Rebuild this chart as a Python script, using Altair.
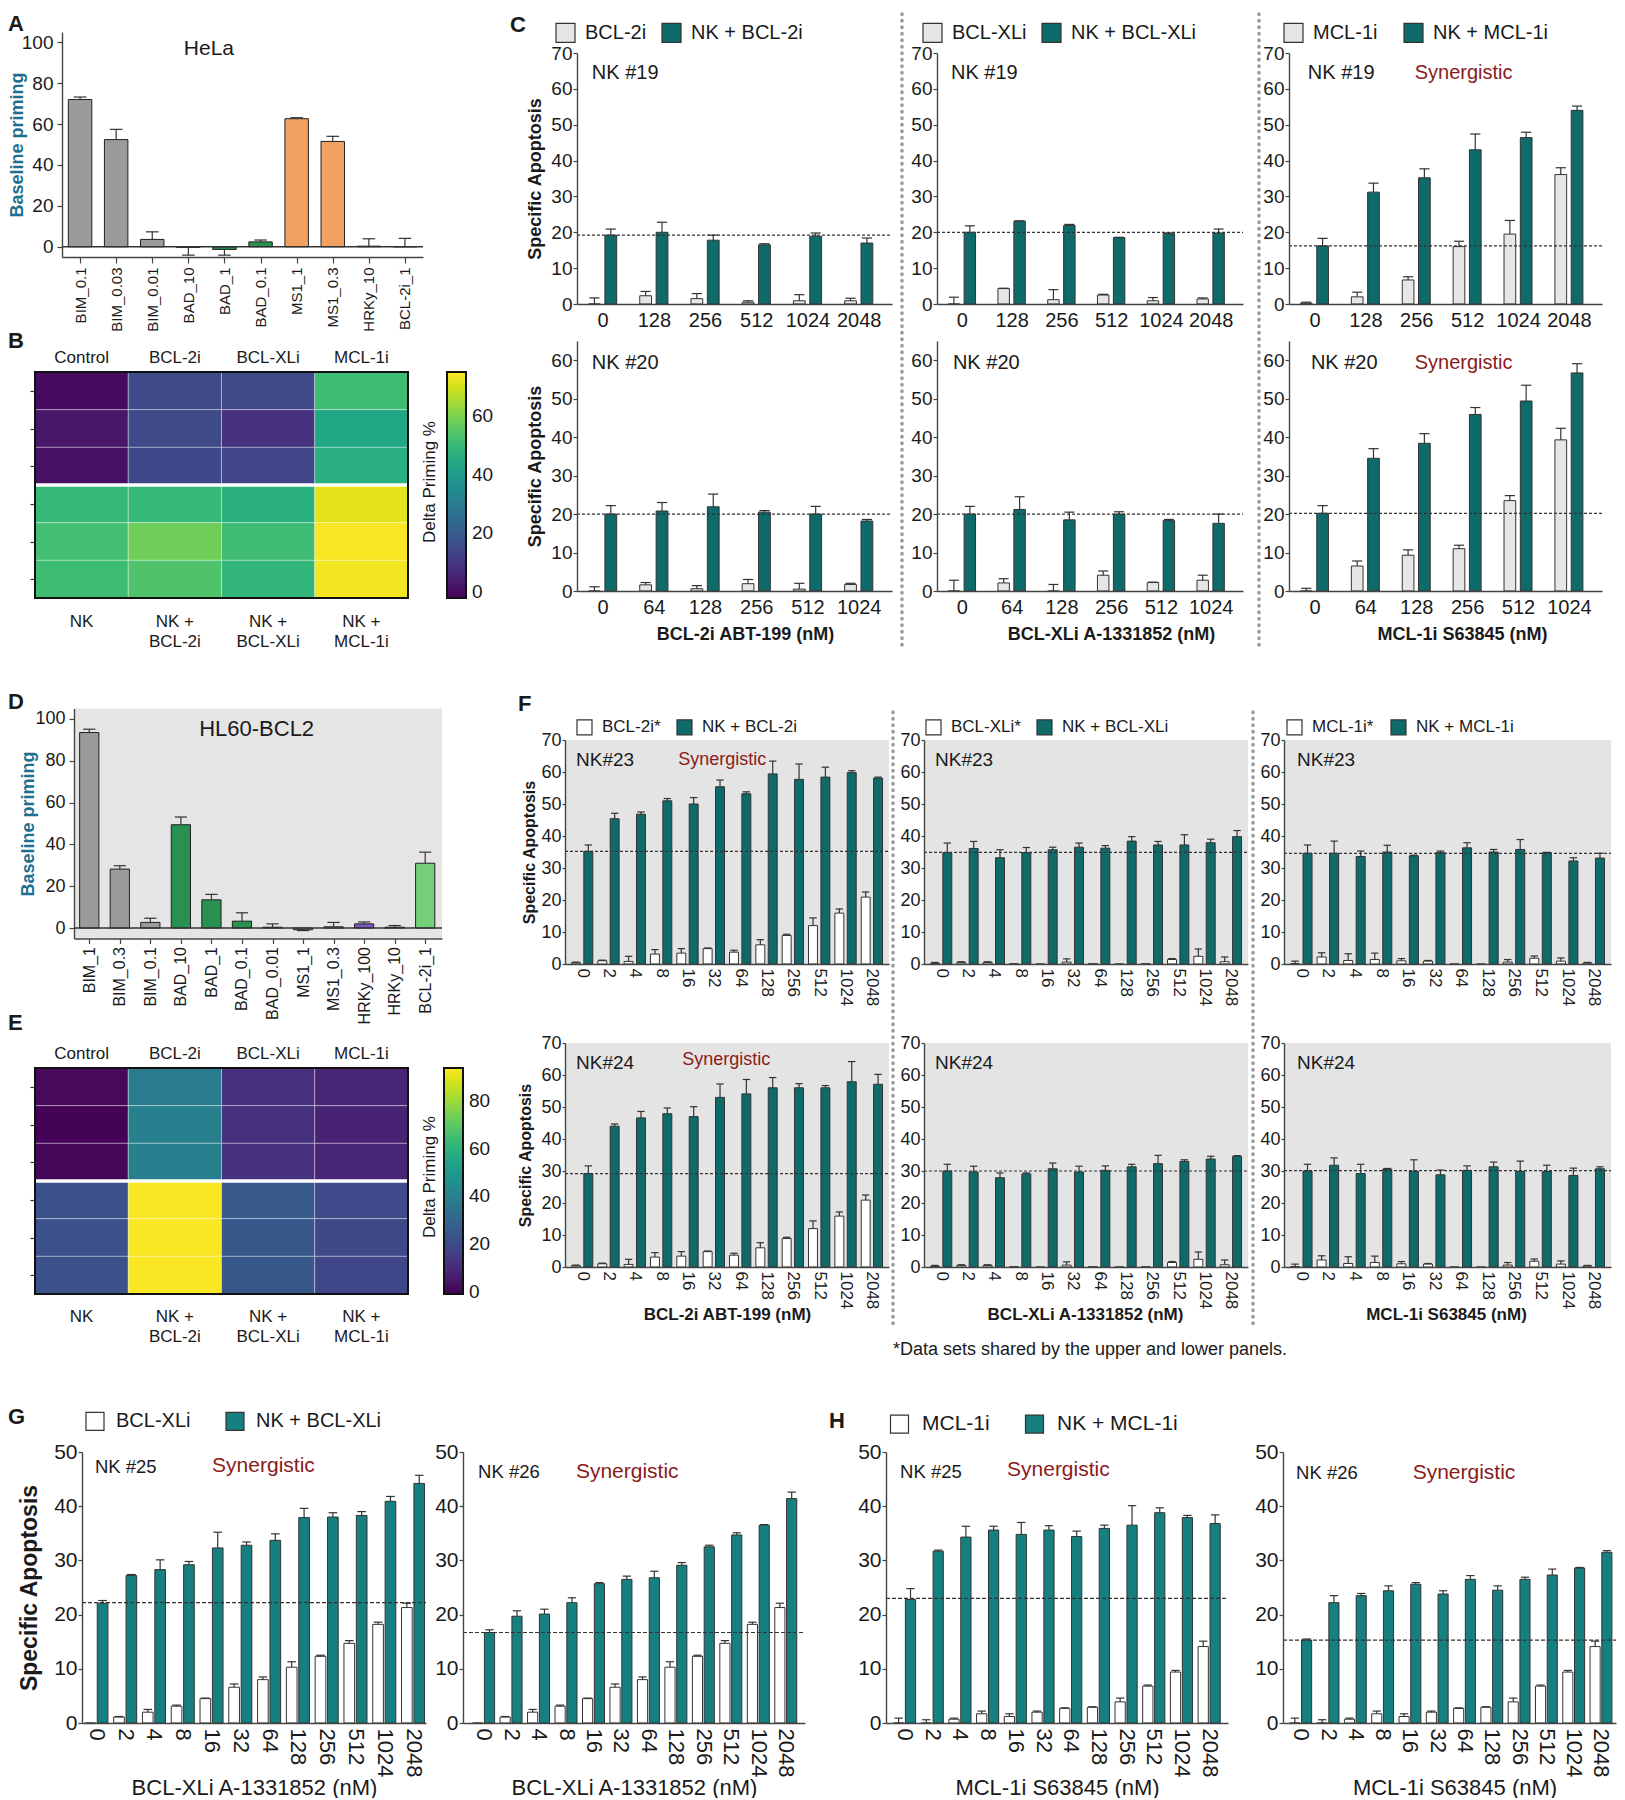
import json
import altair as alt
import pandas as pd

FONT = "Arial, Liberation Sans, Helvetica, sans-serif"
M = 8                      # page margin (reference px -> chart px)
W, H = 1609, 1784          # whole canvas used as one plot area
INK = "#1a1a1a"
TEAL = "#0f6a6a"
TEAL_G = "#15807f"
LIGHT = "#e6e6e6"
WHITE = "#ffffff"
RED = "#8b1a1a"
PRIME = "#1e6f8f"

# ------------------------------------------------------------------ data
A_cats = ["BIM_0.1", "BIM_0.03", "BIM_0.01", "BAD_10", "BAD_1", "BAD_0.1",
          "MS1_1", "MS1_0.3", "HRKy_10", "BCL-2i_1"]
A_vals = [72.0, 52.4, 3.6, -0.3, -1.3, 2.4, 62.6, 51.5, 0.3, 0.0]
A_errs = [1.2, 5.0, 3.7, 3.8, 2.8, 0.9, 0.5, 2.5, 3.6, 4.1]

D_cats = ["BIM_1", "BIM_0.3", "BIM_0.1", "BAD_10", "BAD_1", "BAD_0.1", "BAD_0.01",
          "MS1_1", "MS1_0.3", "HRKy_100", "HRKy_10", "BCL-2i_1"]
D_vals = [93.5, 28.2, 2.7, 49.4, 13.5, 3.3, 0.4, -0.8, 0.6, 2.0, 0.4, 31.0]
D_errs = [1.6, 1.6, 2.0, 3.7, 2.6, 4.0, 1.6, 0.4, 2.1, 0.9, 0.8, 5.3]

FAMILIES = ["BIM", "BAD", "MS1", "HRKy", "BCL-2i"]
FAMILY_COLORS = ["#9b9b9b", "#289152", "#f1a262", "#7b55c3", "#74cf79"]

HEAT_COLS = ["Control", "BCL-2i", "BCL-XLi", "MCL-1i"]
HEAT_NK = ["NK", "NK +\nBCL-2i", "NK +\nBCL-XLi", "NK +\nMCL-1i"]
B_vals = [[0.0, 15.0, 15.0, 51.0],
          [2.5, 15.0, 9.0, 44.0],
          [1.0, 14.5, 14.0, 46.5],
          [49.5, 49.5, 47.0, 72.0],
          [52.0, 58.0, 51.0, 74.6],
          [51.0, 53.5, 48.8, 73.5]]
E_vals = [[1.0, 38.0, 12.0, 8.5],
          [-0.5, 39.5, 12.0, 8.0],
          [0.5, 39.5, 12.0, 8.5],
          [22.0, 93.5, 25.5, 20.0],
          [22.0, 93.5, 25.0, 19.5],
          [22.0, 93.5, 25.0, 19.0]]

C_top_cats = ["0", "128", "256", "512", "1024", "2048"]
C_bot_cats = ["0", "64", "128", "256", "512", "1024"]
C1_light = [0.0, 2.3, 1.5, 0.5, 0.9, 0.9]
C1_light_err = [1.7, 1.2, 1.4, 0.4, 1.7, 0.7]
C1_teal = [19.2, 20.0, 17.8, 16.5, 18.9, 17.0]
C1_teal_err = [1.7, 2.8, 1.4, 0.3, 0.9, 1.4]
C2_light = [0.0, 4.3, 1.2, 2.5, 0.9, 1.4]
C2_light_err = [1.9, 0.1, 2.8, 0.2, 0.9, 0.3]
C2_teal = [20.0, 23.1, 21.9, 18.5, 19.6, 19.8]
C2_teal_err = [1.8, 0.1, 0.3, 0.1, 0.2, 1.1]
C3_light = [0.2, 2.0, 6.7, 16.0, 19.5, 36.1]
C3_light_err = [0.3, 1.3, 0.9, 1.5, 3.8, 1.9]
C3_teal = [16.2, 31.2, 35.2, 43.0, 46.4, 54.0]
C3_teal_err = [2.1, 2.5, 2.5, 4.4, 1.5, 1.2]
C4_light = [0.0, 1.6, 0.6, 1.9, 0.5, 1.7]
C4_light_err = [1.1, 0.6, 0.8, 1.1, 1.5, 0.3]
C4_teal = [20.0, 20.8, 21.9, 20.5, 20.0, 18.2]
C4_teal_err = [2.2, 2.2, 3.3, 0.4, 2.0, 0.4]
C5_light = [0.0, 2.1, 0.0, 4.1, 2.2, 2.8]
C5_light_err = [2.8, 1.1, 1.7, 1.1, 0.1, 1.3]
C5_teal = [20.0, 21.2, 18.5, 20.0, 18.3, 17.6]
C5_teal_err = [2.0, 3.3, 2.0, 0.6, 0.3, 2.4]
C6_light = [0.0, 6.5, 9.3, 11.0, 23.5, 39.3]
C6_light_err = [0.7, 1.3, 1.4, 0.9, 1.3, 3.0]
C6_teal = [20.2, 34.5, 38.4, 45.9, 49.4, 56.7]
C6_teal_err = [2.0, 2.5, 2.5, 1.8, 4.1, 2.4]
C_refs = [19.2, 20.0, 16.2, 20.0, 20.0, 20.2]

DOSE_CATS = ["0", "2", "4", "8", "16", "32", "64", "128", "256", "512", "1024", "2048"]
F_bcl2i = [0.4, 1.0, 0.8, 3.1, 3.4, 4.8, 3.7, 6.0, 8.9, 12.0, 15.9, 20.9]
F_bcl2i_err = [0.2, 0.2, 1.6, 1.4, 1.4, 0.2, 0.6, 1.6, 0.4, 2.4, 1.3, 1.6]
F_bclxli = [0.2, 0.5, 0.5, 0.1, 0.0, 0.6, 0.1, 0.0, 0.1, 1.4, 2.4, 0.7]
F_bclxli_err = [0.3, 0.2, 0.2, 0.0, 0.0, 1.0, 0.0, 0.0, 0.0, 0.3, 2.3, 1.5]
F_mcl1i = [0.1, 2.2, 1.1, 1.4, 1.0, 0.9, 0.0, 0.0, 0.6, 1.8, 0.9, 0.3]
F_mcl1i_err = [0.8, 1.3, 2.1, 2.0, 0.7, 0.2, 0.0, 0.0, 0.8, 0.7, 1.0, 0.2]
F1_teal = [35.2, 45.4, 46.8, 51.0, 50.0, 55.4, 53.2, 59.4, 57.7, 58.4, 59.8, 58.1]
F1_teal_err = [2.0, 1.7, 0.7, 0.7, 2.0, 2.1, 0.6, 4.0, 4.8, 3.1, 0.6, 0.3]
F2_teal = [34.8, 36.1, 33.2, 34.8, 35.7, 36.5, 36.2, 38.4, 37.2, 37.2, 37.9, 39.8]
F2_teal_err = [3.0, 2.2, 2.5, 1.6, 0.8, 1.3, 0.8, 1.4, 1.1, 3.2, 1.1, 1.9]
F3_teal = [34.6, 34.6, 33.6, 35.0, 33.8, 34.8, 36.3, 35.0, 35.8, 34.8, 32.2, 33.1]
F3_teal_err = [2.6, 3.8, 1.7, 2.1, 0.2, 0.5, 1.6, 0.8, 3.1, 0.1, 1.0, 1.5]
F4_teal = [29.2, 44.0, 46.6, 47.9, 47.0, 53.0, 54.1, 56.0, 56.0, 56.0, 57.9, 57.1]
F4_teal_err = [2.4, 0.7, 2.0, 1.8, 3.1, 4.2, 4.5, 3.2, 1.3, 0.7, 6.3, 3.1]
F5_teal = [30.0, 29.7, 27.9, 29.1, 30.7, 29.7, 30.2, 31.3, 32.3, 33.0, 33.75, 34.6]
F5_teal_err = [2.1, 1.8, 1.5, 0.3, 1.8, 1.8, 1.4, 0.8, 2.6, 0.5, 0.85, 0.2]
F6_teal = [30.0, 31.8, 29.2, 30.6, 29.9, 28.8, 30.2, 31.3, 29.9, 29.9, 28.6, 30.7]
F6_teal_err = [2.1, 2.3, 2.9, 0.2, 3.6, 1.5, 1.4, 1.5, 3.2, 1.9, 2.3, 0.6]
F_refs = [35.2, 34.9, 34.6, 29.2, 30.0, 30.1]

G_xli = [0.0, 1.1, 2.0, 3.1, 4.5, 6.6, 8.0, 10.3, 12.3, 14.7, 18.2, 21.3]
G_xli_err = [0.0, 0.1, 0.5, 0.2, 0.1, 0.6, 0.5, 1.0, 0.2, 0.5, 0.4, 0.8]
G1_teal = [22.1, 27.2, 28.3, 29.2, 32.3, 32.8, 33.7, 37.9, 38.0, 38.3, 40.9, 44.2]
G1_teal_err = [0.5, 0.2, 1.8, 0.6, 2.9, 0.6, 1.2, 1.7, 0.8, 0.7, 0.9, 1.5]
G2_teal = [16.7, 19.7, 20.1, 22.2, 25.7, 26.5, 26.8, 29.1, 32.5, 34.7, 36.5, 41.4]
G2_teal_err = [0.5, 1.0, 0.9, 0.9, 0.2, 0.6, 1.2, 0.5, 0.3, 0.4, 0.1, 1.2]
G_refs = [22.2, 16.7]

H_mcl = [0.0, 0.0, 0.7, 1.7, 1.2, 2.0, 2.7, 2.9, 3.9, 6.8, 9.4, 14.1]
H_mcl_err = [0.9, 0.6, 0.2, 0.5, 0.5, 0.2, 0.1, 0.1, 0.7, 0.2, 0.3, 1.0]
H1_teal = [22.8, 31.7, 34.3, 35.6, 34.8, 35.6, 34.4, 35.9, 36.5, 38.8, 37.9, 36.8]
H1_teal_err = [2.0, 0.2, 2.0, 0.7, 2.2, 0.8, 1.0, 0.6, 3.6, 0.9, 0.4, 1.6]
H2_teal = [15.3, 22.2, 23.5, 24.4, 25.6, 23.8, 26.5, 24.5, 26.5, 27.3, 28.6, 31.5]
H2_teal_err = [0.2, 1.3, 0.4, 0.9, 0.3, 0.6, 0.7, 0.8, 0.4, 1.1, 0.1, 0.3]
H_refs = [23.0, 15.3]

# ------------------------------------------------------------------ helpers
ONE = pd.DataFrame({"k": [0]})


def S(dom, a, b):
    return alt.Scale(domain=[float(d) for d in dom], range=[a - M, b - M], nice=False, zero=False)


def yaxis(box, ticks, st, title=None, tx=None, tcolor=INK):
    x0 = box[0]
    kw = dict(orient="left", offset=-(x0 - M), values=ticks, labelFontSize=st["ylab"],
              tickSize=st["ytick"], labelPadding=st["ypad"], grid=False, zindex=1,
              labelFlush=False, labelOverlap=False, labelColor=INK)
    if title:
        kw.update(title=title, titleFontSize=st["ytsize"], titleFontWeight="bold", titleColor=tcolor,
                  titleX=tx - x0, titleBaseline="middle", titleAlign="center", titleAngle=270)
    else:
        kw["title"] = None
    return alt.Axis(**kw)


def xaxis(box, cats, st, title=None, tx=None, ty=None):
    yb = box[3]
    kw = dict(orient="bottom", offset=(yb - M) - H, values=list(range(len(cats))),
              labelExpr=json.dumps(cats) + "[round(datum.value)]", labelAngle=st["angle"],
              labelFontSize=st["xlab"], tickSize=st["xtick"], ticks=st["xtick"] > 0,
              labelPadding=st["xpad"], grid=False, zindex=1, labelFlush=False,
              labelOverlap=False, labelColor=INK)
    if title:
        kw.update(title=title, titleFontSize=st["xtsize"], titleFontWeight=st["xtweight"],
                  titleColor=INK, titleX=tx - M, titleY=ty - yb, titleBaseline="middle",
                  titleAlign="center")
    else:
        kw["title"] = None
    return alt.Axis(**kw)


def bar_legend(x, yc, size, font, pad, offset=9):
    return alt.Legend(orient="none", legendX=x - M, legendY=yc - M - max(size, font) / 2 + 1,
                      direction="horizontal", title=None, symbolType="square",
                      symbolSize=size * size, symbolStrokeColor="#333333", symbolStrokeWidth=1.2,
                      labelFontSize=font, labelOffset=offset, columnPadding=pad,
                      labelColor=INK, labelFont=FONT, symbolOpacity=1)


def text_layer(xs, ys, x, y, t, size, color=INK, align="left", weight="normal"):
    return alt.Chart(ONE).mark_text(text=t, fontSize=size, color=color, align=align,
                                    baseline="middle", font=FONT, fontWeight=weight).encode(
        x=alt.XDatum(datum=x, scale=xs, axis=None), y=alt.YDatum(datum=y, scale=ys, axis=None))


def bar_panel(cats, series, fills, box, ydom, yticks, xdom, st, names=None, ref=None,
              legend=None, ytitle=None, ytx=None, ytcolor=INK, xtitle=None, xtx=None,
              xty=None, texts=(), bg=None, zero=False, family=False):
    x0, x1, yt, yb = box
    xs = S(xdom, x0, x1)
    ys = S(ydom, yb, yt)
    rows = []
    for s, (vals, errs) in enumerate(series):
        off = 0.0 if len(series) == 1 else (-st["dx"] if s == 0 else st["dx"])
        for i, (v, e) in enumerate(zip(vals, errs)):
            c = i + off
            rows.append({"name": cats[i].rsplit("_", 1)[0] if family else names[s],
                         "v": v, "e": e, "c": c,
                         "xl": c - st["bw"] / 2, "xr": c + st["bw"] / 2,
                         "cl": c - st["cap"] / 2, "cr": c + st["cap"] / 2,
                         "top": v - e if v < 0 else v + e})
    df = pd.DataFrame(rows)
    dom = FAMILIES if family else names
    layers = []
    if bg:
        layers.append(alt.Chart(ONE).mark_rect(color=bg).encode(
            x=alt.XDatum(datum=xdom[0], scale=xs, axis=None), x2=alt.X2Datum(datum=xdom[1]),
            y=alt.YDatum(datum=ydom[0], scale=ys, axis=None), y2=alt.Y2Datum(datum=ydom[1])))
    layers.append(alt.Chart(df).mark_bar(stroke=st["edge"], strokeWidth=1).encode(
        x=alt.X("xl:Q", scale=xs, axis=xaxis(box, cats, st, xtitle, xtx, xty)), x2="xr:Q",
        y=alt.Y("v:Q", scale=ys, axis=yaxis(box, yticks, st, ytitle, ytx, ytcolor)),
        y2=alt.Y2Datum(datum=0),
        color=alt.Color("name:N", scale=alt.Scale(domain=dom, range=fills), legend=legend)))
    eb = df[df["e"] > 0]
    layers.append(alt.Chart(eb).mark_rule(color="#333333", strokeWidth=1.2).encode(
        x=alt.X("c:Q", scale=xs, axis=None), y=alt.Y("v:Q", scale=ys, axis=None), y2="top:Q"))
    layers.append(alt.Chart(eb).mark_rule(color="#333333", strokeWidth=1.2).encode(
        x=alt.X("cl:Q", scale=xs, axis=None), x2="cr:Q", y=alt.Y("top:Q", scale=ys, axis=None)))
    if zero:
        layers.append(alt.Chart(ONE).mark_rule(color="#333333", strokeWidth=1.5).encode(
            x=alt.XDatum(datum=xdom[0], scale=xs, axis=None), x2=alt.X2Datum(datum=xdom[1]),
            y=alt.YDatum(datum=0, scale=ys, axis=None)))
    if ref is not None:
        layers.append(alt.Chart(ONE).mark_rule(color="#333333", strokeDash=st["dash"],
                                               strokeWidth=1.2).encode(
            x=alt.XDatum(datum=xdom[0], scale=xs, axis=None), x2=alt.X2Datum(datum=xdom[1]),
            y=alt.YDatum(datum=ref, scale=ys, axis=None)))
    for t in texts:
        layers.append(text_layer(xs, ys, *t))
    return layers


def heat_panel(vals, box, cdom, cticks, leg_x, ty_top, ty_bot):
    x0, x1, yt, yb = box
    xs = S([0, 4], x0, x1)
    ys = S([0, 6], yt, yb)
    cells = pd.DataFrame([{"c0": c, "c1": c + 1, "r0": r, "r1": r + 1, "v": v}
                          for r, row in enumerate(vals) for c, v in enumerate(row)])
    leg = alt.Legend(orient="none", legendX=leg_x - M, legendY=yt - M, direction="vertical",
                     gradientLength=yb - yt, gradientThickness=19, title=None, values=cticks,
                     labelFontSize=19, labelOffset=6, gradientStrokeColor="#111111",
                     gradientStrokeWidth=2, labelColor=INK, labelFont=FONT)
    yax = alt.Axis(orient="left", offset=-(x0 - M), values=[0.5, 1.5, 2.5, 3.5, 4.5, 5.5],
                   labels=False, domain=False, tickSize=5, title=None, grid=False,
                   tickColor="#333333")
    return [
        alt.Chart(cells).mark_rect(stroke="white", strokeWidth=1, strokeOpacity=0.35).encode(
            x=alt.X("c0:Q", scale=xs, axis=None), x2="c1:Q",
            y=alt.Y("r0:Q", scale=ys, axis=yax), y2="r1:Q",
            color=alt.Color("v:Q", scale=alt.Scale(scheme="viridis", domain=cdom), legend=leg)),
        alt.Chart(ONE).mark_rule(color="white", strokeWidth=3.5).encode(
            x=alt.XDatum(datum=0, scale=xs, axis=None), x2=alt.X2Datum(datum=4),
            y=alt.YDatum(datum=3, scale=ys, axis=None)),
        alt.Chart(ONE).mark_rect(fill="white", fillOpacity=0, stroke="#111111",
                                 strokeWidth=2).encode(
            x=alt.XDatum(datum=0, scale=xs, axis=None), x2=alt.X2Datum(datum=4),
            y=alt.YDatum(datum=0, scale=ys, axis=None), y2=alt.Y2Datum(datum=6)),
        alt.Chart(pd.DataFrame({"x": [0.5, 1.5, 2.5, 3.5], "t": HEAT_COLS})).mark_text(
            fontSize=17, baseline="middle", font=FONT, color=INK).encode(
            x=alt.X("x:Q", scale=xs, axis=None), y=alt.YDatum(datum=ty_top, scale=ys, axis=None),
            text="t:N"),
        alt.Chart(pd.DataFrame({"x": [0.5, 1.5, 2.5, 3.5], "t": HEAT_NK})).mark_text(
            fontSize=17, baseline="middle", font=FONT, color=INK, lineBreak="\n",
            lineHeight=20).encode(
            x=alt.X("x:Q", scale=xs, axis=None), y=alt.YDatum(datum=ty_bot, scale=ys, axis=None),
            text="t:N"),
    ]


# ------------------------------------------------------------------ styles / layout
ST_A = dict(bw=0.65, dx=0, cap=0.35, ylab=19, ytick=5, ypad=4, ytsize=18,
            xlab=15, xtick=6, xpad=4, angle=270, xtsize=15, xtweight="bold",
            dash=[3, 2], edge="#222222")
ST_D = dict(ST_A, bw=0.63, cap=0.4, ylab=18, xlab=16, xtick=5, xpad=3)
ST_C = dict(bw=0.23, dx=0.16, cap=0.2, ylab=19, ytick=4, ypad=1, ytsize=18,
            xlab=20, xtick=0, xpad=6, angle=0, xtsize=18, xtweight="bold",
            dash=[3, 2], edge="#333333")
ST_F = dict(bw=0.34, dx=0.235, cap=0.28, ylab=18, ytick=3, ypad=1, ytsize=16,
            xlab=17, xtick=0, xpad=4, angle=90, xtsize=17, xtweight="bold",
            dash=[3, 2], edge="#333333")
ST_G = dict(bw=0.37, dx=0.215, cap=0.3, ylab=21, ytick=4, ypad=1, ytsize=23,
            xlab=22, xtick=0, xpad=5, angle=90, xtsize=22, xtweight="normal",
            dash=[4, 2], edge="#333333")

C_cols = [(577, 892), (937, 1243), (1289, 1602)]
C_rows = [(53, 304, [0, 70], list(range(0, 71, 10))), (341, 591, [0, 65], list(range(0, 61, 10)))]
F_cols = [(565, 889), (924, 1248), (1284, 1611)]
F_rows = [(740, 964), (1043, 1267)]
GH_y = (1452, 1723)

layers = []

# A
layers += bar_panel(A_cats, [(A_vals, A_errs)], FAMILY_COLORS, (62, 423, 32, 257),
                    [-5, 105], list(range(0, 101, 20)), [-0.5, 9.5], ST_A, family=True,
                    ytitle="Baseline priming", ytx=17, ytcolor=PRIME, zero=True,
                    texts=[(3.57, 96.5, "HeLa", 21, INK, "center")])
# D
layers += bar_panel(D_cats, [(D_vals, D_errs)], FAMILY_COLORS, (74, 442, 708.5, 938.5),
                    [-5, 105], list(range(0, 101, 20)), [-0.5, 11.55], ST_D, family=True,
                    ytitle="Baseline priming", ytx=28, ytcolor=PRIME, zero=True, bg="#e5e5e5",
                    texts=[(5.48, 95.2, "HL60-BCL2", 22, INK, "center")])
# B, E heatmaps
layers += heat_panel(B_vals, (35, 408, 372, 598), [-2, 75], [0, 20, 40, 60], 447, -0.37, 6.64)
layers += heat_panel(E_vals, (35, 408, 1068, 1294), [-1, 94], [0, 20, 40, 60, 80], 444,
                     -0.37, 6.6)

# C
C_series = [
    [(C1_light, C1_light_err), (C1_teal, C1_teal_err)],
    [(C2_light, C2_light_err), (C2_teal, C2_teal_err)],
    [(C3_light, C3_light_err), (C3_teal, C3_teal_err)],
    [(C4_light, C4_light_err), (C4_teal, C4_teal_err)],
    [(C5_light, C5_light_err), (C5_teal, C5_teal_err)],
    [(C6_light, C6_light_err), (C6_teal, C6_teal_err)],
]
C_names = [["BCL-2i", "NK + BCL-2i"], ["BCL-XLi", "NK + BCL-XLi"], ["MCL-1i", "NK + MCL-1i"]]
C_legend = [(555, 12), (922, 12), (1283, 23)]
C_xtitles = [("BCL-2i ABT-199 (nM)", 745), ("BCL-XLi A-1331852 (nM)", 1111),
             ("MCL-1i S63845 (nM)", 1462)]
C_nk_x = [[-0.21, -0.22, -0.13], [-0.21, -0.18, -0.07]]
for r, (yt, yb, ydom, yticks) in enumerate(C_rows):
    for c, (x0, x1) in enumerate(C_cols):
        k = r * 3 + c
        nk_y = 64.4 if r == 0 else 59.2
        texts = [(C_nk_x[r][c], nk_y, "NK #19" if r == 0 else "NK #20", 20, INK, "left")]
        if c == 2:
            texts.append((1.97, nk_y, "Synergistic", 20, RED, "left"))
        layers += bar_panel(
            C_top_cats if r == 0 else C_bot_cats, C_series[k], [LIGHT, TEAL], (x0, x1, yt, yb),
            ydom, yticks, [-0.5, 5.65], ST_C, names=C_names[c], ref=C_refs[k],
            legend=bar_legend(C_legend[c][0], 31, 19, 20, C_legend[c][1]) if r == 0 else None,
            ytitle="Specific Apoptosis" if c == 0 else None, ytx=535,
            xtitle=C_xtitles[c][0] if r == 1 else None, xtx=C_xtitles[c][1], xty=634,
            texts=texts)

# F
F_light = [(F_bcl2i, F_bcl2i_err), (F_bclxli, F_bclxli_err), (F_mcl1i, F_mcl1i_err)]
F_teal = [(F1_teal, F1_teal_err), (F2_teal, F2_teal_err), (F3_teal, F3_teal_err),
          (F4_teal, F4_teal_err), (F5_teal, F5_teal_err), (F6_teal, F6_teal_err)]
F_names = [["BCL-2i*", "NK + BCL-2i"], ["BCL-XLi*", "NK + BCL-XLi"], ["MCL-1i*", "NK + MCL-1i"]]
F_legend = [(576, 13), (925, 13), (1286, 14)]
F_xtitles = [("BCL-2i ABT-199 (nM)", 727), ("BCL-XLi A-1331852 (nM)", 1085),
             ("MCL-1i S63845 (nM)", 1446)]
F_nk_x = [-0.23, -0.23, -0.16]
for r, (yt, yb) in enumerate(F_rows):
    for c, (x0, x1) in enumerate(F_cols):
        k = r * 3 + c
        texts = [(F_nk_x[c], 63.75, "NK#23" if r == 0 else "NK#24", 19, INK, "left")]
        if c == 0:
            texts.append((3.65 if r == 0 else 3.8, 63.7 if r == 0 else 64.7, "Synergistic", 18,
                          RED, "left"))
        layers += bar_panel(
            DOSE_CATS, [F_light[c], F_teal[k]], [WHITE, TEAL], (x0, x1, yt, yb), [0, 70],
            list(range(0, 71, 10)), [-0.65, 11.65], ST_F, names=F_names[c], ref=F_refs[k],
            legend=bar_legend(F_legend[c][0], 726, 15, 17, F_legend[c][1]) if r == 0 else None,
            ytitle="Specific Apoptosis" if c == 0 else None, ytx=529 if r == 0 else 525,
            xtitle=F_xtitles[c][0] if r == 1 else None, xtx=F_xtitles[c][1], xty=1314,
            texts=texts, bg="#e4e4e4")

# G
G_boxes = [(82, 426), (463, 805)]
G_xdoms = [[-0.5, 11.45], [-0.75, 11.7]]
G_teal = [(G1_teal, G1_teal_err), (G2_teal, G2_teal_err)]
G_texts = [[(-0.05, 47.2, "NK #25", 18.5, INK, "left"), (4.02, 47.4, "Synergistic", 21, RED, "left")],
           [(-0.2, 46.3, "NK #26", 18.5, INK, "left"), (3.36, 46.3, "Synergistic", 21, RED, "left")]]
for g in range(2):
    x0, x1 = G_boxes[g]
    layers += bar_panel(
        DOSE_CATS, [(G_xli, G_xli_err), G_teal[g]], [WHITE, TEAL_G], (x0, x1, GH_y[0], GH_y[1]),
        [0, 50], list(range(0, 51, 10)), G_xdoms[g], ST_G, names=["BCL-XLi", "NK + BCL-XLi"],
        ref=G_refs[g], legend=bar_legend(85, 1420, 18, 20, 32, 11) if g == 0 else None,
        ytitle="Specific Apoptosis" if g == 0 else None, ytx=29,
        xtitle="BCL-XLi A-1331852 (nM)", xtx=(x0 + x1) / 2, xty=1787, texts=G_texts[g])

# H
H_boxes = [(886, 1228), (1283, 1616)]
H_xdoms = [[-0.67, 11.68], [-0.65, 11.55]]
H_teal = [(H1_teal, H1_teal_err), (H2_teal, H2_teal_err)]
H_texts = [[(-0.16, 46.3, "NK #25", 18.5, INK, "left"), (3.7, 46.7, "Synergistic", 21, RED, "left")],
           [(-0.17, 46.2, "NK #26", 18.5, INK, "left"), (4.1, 46.2, "Synergistic", 21, RED, "left")]]
for h in range(2):
    x0, x1 = H_boxes[h]
    layers += bar_panel(
        DOSE_CATS, [(H_mcl, H_mcl_err), H_teal[h]], [WHITE, TEAL_G], (x0, x1, GH_y[0], GH_y[1]),
        [0, 50], list(range(0, 51, 10)), H_xdoms[h], ST_G, names=["MCL-1i", "NK + MCL-1i"],
        ref=H_refs[h], legend=bar_legend(889, 1423, 18, 21, 33, 12) if h == 0 else None,
        xtitle="MCL-1i S63845 (nM)", xtx=(x0 + x1) / 2 + (5 if h else 0), xty=1787,
        texts=H_texts[h])

# page frame: panel letters, colour-bar titles, footnote, dotted separators
FX = S([M, W + M], M, W + M)
FY = S([M, H + M], M, H + M)
letters = pd.DataFrame({
    "x": [8, 8, 510, 8, 8, 518, 8, 829],
    "y": [24, 341, 25, 702, 1023, 704, 1417, 1421],
    "t": ["A", "B", "C", "D", "E", "F", "G", "H"]})
seps = pd.DataFrame({"x": [902, 1259, 893, 1253], "y1": [14, 14, 712, 712],
                     "y2": [645, 645, 1328, 1328]})
layers += [
    alt.Chart(seps).mark_rule(color="#9a9a9a", strokeWidth=3.5, strokeDash=[0.5, 6],
                              strokeCap="round").encode(
        x=alt.X("x:Q", scale=FX, axis=None), y=alt.Y("y1:Q", scale=FY, axis=None), y2="y2:Q"),
    alt.Chart(letters).mark_text(fontSize=22, fontWeight="bold", align="left",
                                 baseline="middle", font=FONT, color=INK).encode(
        x=alt.X("x:Q", scale=FX, axis=None), y=alt.Y("y:Q", scale=FY, axis=None), text="t:N"),
    alt.Chart(pd.DataFrame({"x": [430, 430], "y": [482, 1177],
                            "t": ["Delta Priming %", "Delta Priming %"]})).mark_text(
        fontSize=17, angle=270, align="center", baseline="middle", font=FONT, color=INK).encode(
        x=alt.X("x:Q", scale=FX, axis=None), y=alt.Y("y:Q", scale=FY, axis=None), text="t:N"),
    alt.Chart(pd.DataFrame({"x": [1090], "y": [1350],
                            "t": ["*Data sets shared by the upper and lower panels."]})).mark_text(
        fontSize=18, align="center", baseline="middle", font=FONT, color=INK).encode(
        x=alt.X("x:Q", scale=FX, axis=None), y=alt.Y("y:Q", scale=FY, axis=None), text="t:N"),
]

chart = alt.layer(*layers).resolve_scale(
    x="independent", y="independent", color="independent"
).properties(width=W, height=H, padding=0, background="white").configure_view(
    strokeWidth=0
).configure_axis(
    labelFont=FONT, titleFont=FONT, domainColor="#444444", tickColor="#444444",
    domainWidth=1.4, tickWidth=1.2
).configure_legend(labelFont=FONT)

chart.save("out.html", embed_options={"renderer": "svg", "actions": False})
